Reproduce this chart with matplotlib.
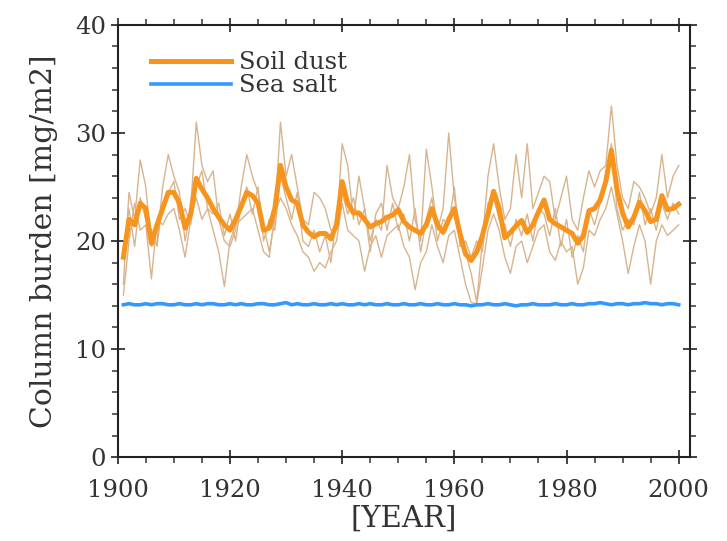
import numpy as np
import matplotlib
matplotlib.use("Agg")
import matplotlib.pyplot as plt
from matplotlib.ticker import MultipleLocator

# ---------------- data ----------------
years = np.arange(1901, 2001)

dust_mean = [18.5, 22.0, 21.5, 23.5, 23.0, 19.8, 21.5, 23.0, 24.5, 24.5,
             23.5, 21.2, 22.5, 25.8, 24.8, 24.0, 23.0, 22.2, 21.5, 21.0,
             22.0, 23.2, 24.5, 24.2, 23.5, 21.0, 21.2, 23.0, 27.0, 25.0,
             23.8, 23.5, 21.5, 20.8, 20.4, 20.7, 20.7, 20.2, 21.5, 25.5,
             23.5, 22.6, 22.6, 22.0, 21.3, 21.6, 21.8, 22.2, 22.4, 22.9,
             21.8, 21.3, 21.0, 20.7, 21.5, 23.0, 21.5, 20.8, 22.0, 23.0,
             20.7, 18.8, 18.2, 19.0, 20.5, 22.5, 24.6, 23.0, 20.3, 20.8,
             21.4, 21.9, 20.8, 21.5, 22.7, 23.8, 22.0, 21.6, 21.3, 21.0,
             20.7, 19.8, 20.5, 22.8, 23.0, 23.8, 25.5, 28.4, 24.8, 22.6,
             21.3, 22.2, 23.6, 22.8, 21.8, 22.0, 24.2, 22.9, 23.0, 23.4]

dust_run1 = [16.0, 24.5, 22.0, 27.5, 25.0, 19.5, 20.0, 25.0, 28.0, 26.0,
             24.5, 20.0, 23.0, 31.0, 27.0, 25.5, 26.5, 22.0, 20.0, 19.5,
             21.0, 25.0, 28.0, 26.0, 24.5, 21.5, 19.0, 22.0, 31.0, 26.0,
             28.0, 25.0, 22.0, 21.5, 24.5, 24.0, 23.0, 21.0, 21.0, 29.0,
             27.0, 22.0, 26.0, 23.0, 20.0, 22.0, 21.0, 27.0, 24.0, 23.0,
             25.0, 28.0, 22.0, 20.0, 28.5, 25.0, 21.0, 23.0, 30.0, 24.0,
             21.0, 19.0, 17.0, 14.3, 20.0, 26.0, 29.0, 25.0, 22.0, 23.0,
             28.0, 24.0, 29.0, 23.0, 24.5, 26.0, 25.5, 22.0, 24.0, 26.0,
             22.0, 21.0, 24.0, 26.5, 25.0, 26.5, 27.0, 32.5, 27.0, 24.0,
             23.0, 25.5, 25.0, 24.0, 22.5, 24.0, 28.0, 24.0, 26.0, 27.0]

dust_run2 = [15.0, 20.0, 23.5, 21.0, 21.5, 16.5, 22.0, 21.5, 22.5, 23.0,
             21.0, 18.5, 22.0, 24.0, 22.0, 23.0, 21.0, 19.0, 15.8, 20.0,
             21.5, 22.0, 22.5, 23.0, 21.0, 19.0, 18.5, 22.5, 24.0, 23.0,
             21.5, 20.5, 19.0, 18.5, 17.2, 18.0, 17.5, 19.0, 20.0, 23.5,
             21.0, 20.5, 20.0, 17.2, 19.5, 20.5, 18.5, 20.5, 21.0, 21.5,
             19.5, 18.5, 15.5, 18.0, 19.0, 21.5, 19.5, 18.0, 20.5, 21.0,
             18.5, 16.0, 14.3, 14.2, 17.5, 21.0, 22.5, 21.0, 18.5, 17.0,
             19.5, 20.0, 18.0, 19.5, 21.0, 21.5, 19.0, 18.2, 20.0, 19.0,
             19.5, 16.0, 17.5, 21.0, 20.5, 22.0, 23.0, 25.0, 22.5, 20.0,
             17.0, 19.5, 21.5, 20.0, 16.0, 20.0, 21.5, 20.5, 21.0, 21.5]

dust_run3 = [19.0, 23.0, 19.5, 24.0, 22.0, 21.0, 19.5, 23.5, 24.5, 25.5,
             22.0, 23.0, 21.5, 25.0, 26.5, 23.0, 22.5, 23.5, 20.5, 22.5,
             20.0, 23.5, 25.0, 22.5, 25.0, 20.0, 22.0, 21.0, 26.0, 24.0,
             22.0, 24.5, 20.0, 19.5, 21.0, 19.0, 20.5, 18.0, 22.5, 24.5,
             22.5, 24.0, 21.5, 23.0, 19.0, 22.5, 23.5, 21.0, 23.5, 21.0,
             22.5, 20.0, 23.0, 19.0, 22.0, 24.0, 20.0, 22.0, 21.5, 25.0,
             19.5, 20.0, 18.5, 20.0, 19.0, 23.5, 24.0, 22.0, 21.5, 19.5,
             22.0, 20.5, 22.5, 20.0, 23.0, 22.5, 20.5, 23.0, 19.5, 22.0,
             18.5, 20.5, 19.0, 23.0, 21.5, 23.5, 26.0, 29.0, 23.0, 21.0,
             22.0, 21.5, 24.5, 21.5, 23.0, 21.0, 23.5, 22.0, 23.5, 22.5]

sea_salt = [14.1, 14.2, 14.1, 14.1, 14.2, 14.1, 14.2, 14.2, 14.1, 14.1,
            14.2, 14.1, 14.1, 14.2, 14.1, 14.2, 14.2, 14.1, 14.1, 14.2,
            14.1, 14.2, 14.1, 14.1, 14.2, 14.2, 14.1, 14.1, 14.2, 14.3,
            14.1, 14.2, 14.1, 14.1, 14.2, 14.1, 14.1, 14.2, 14.1, 14.2,
            14.1, 14.1, 14.2, 14.1, 14.2, 14.1, 14.1, 14.2, 14.1, 14.1,
            14.2, 14.1, 14.1, 14.2, 14.1, 14.1, 14.2, 14.1, 14.1, 14.2,
            14.1, 14.1, 14.0, 14.1, 14.1, 14.2, 14.1, 14.1, 14.2, 14.1,
            14.0, 14.1, 14.1, 14.2, 14.1, 14.1, 14.1, 14.2, 14.1, 14.1,
            14.2, 14.1, 14.1, 14.2, 14.2, 14.3, 14.2, 14.1, 14.2, 14.2,
            14.1, 14.2, 14.2, 14.3, 14.2, 14.2, 14.1, 14.2, 14.2, 14.1]

# ---------------- plot ----------------
plt.rcParams['font.family'] = ['DejaVu Serif']

fig = plt.figure(figsize=(7.27, 5.41), dpi=100)
ax = fig.add_axes([0.162, 0.155, 0.787, 0.799])

for run in (dust_run1, dust_run2, dust_run3):
    ax.plot(years, run, color='#d8b48e', lw=1.0, zorder=2)
ax.plot(years, dust_mean, color='#f7941d', lw=3.6, zorder=3, label='Soil dust')
ax.plot(years, sea_salt, color='#3399ff', lw=2.6, zorder=3, label='Sea salt')

ax.set_xlim(1900, 2002)
ax.set_ylim(0, 40)
ax.xaxis.set_major_locator(MultipleLocator(20))
ax.xaxis.set_minor_locator(MultipleLocator(5))
ax.yaxis.set_major_locator(MultipleLocator(10))
ax.yaxis.set_minor_locator(MultipleLocator(2))

ax.tick_params(which='major', direction='inout', length=10, width=1.3,
               top=True, right=True, labelsize=17.5, colors='#333333')
ax.tick_params(axis='x', which='major', pad=11)
ax.tick_params(which='minor', direction='out', length=4, width=1.1,
               top=True, right=True, colors='#333333')
for s in ax.spines.values():
    s.set_linewidth(1.5)
    s.set_color('#222222')

ax.set_xlabel('[YEAR]', fontsize=21, color='#333333', labelpad=2)
ax.set_ylabel('Column burden [mg/m2]', fontsize=21.5, color='#333333', labelpad=12)

leg = ax.legend(loc='upper left', bbox_to_anchor=(0.02, 0.99), frameon=False,
                handlelength=3.3, handletextpad=0.3, labelspacing=0.0,
                fontsize=17.5)
for t in leg.get_texts():
    t.set_color('#333333')

fig.savefig('out.png', dpi=100)
